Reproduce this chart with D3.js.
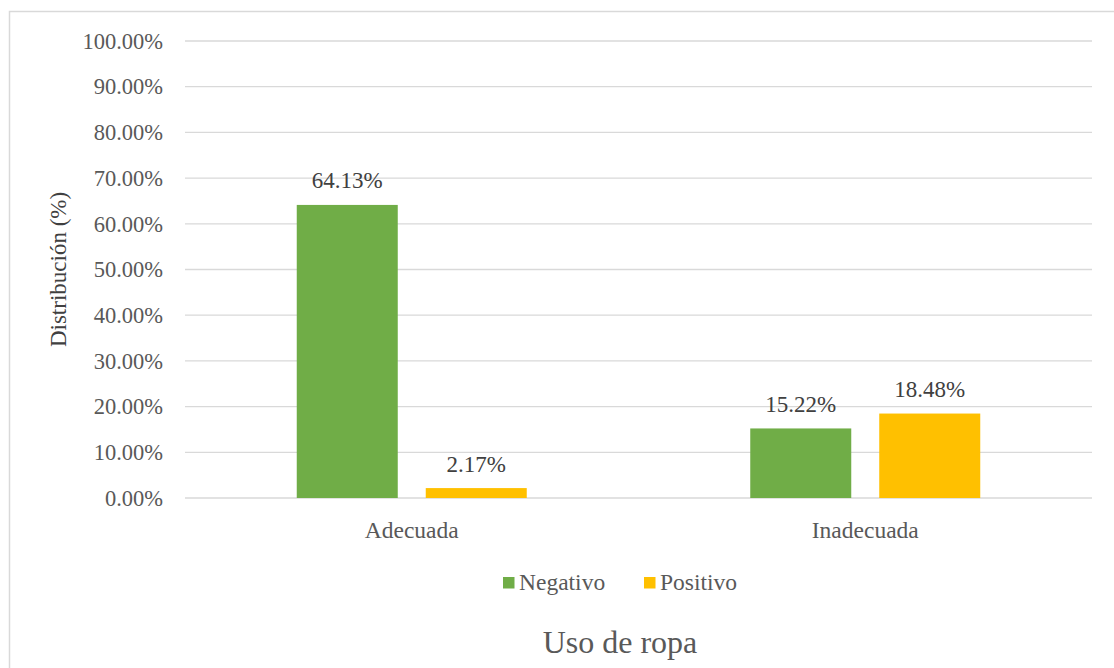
<!DOCTYPE html>
<html>
<head>
    <script src="https://d3js.org/d3.v7.min.js"></script>
    <style>
        body { margin: 0; background: #fff; }
        text { font-family: "Liberation Serif", "Times New Roman", serif; }
    </style>
</head>
<body>
    <svg width="1114" height="668"></svg>
    <script>
        // Data
        const categories = ["Adecuada", "Inadecuada"];
        const seriesNames = ["Negativo", "Positivo"];
        const negativo = [64.13, 15.22];
        const positivo = [2.17, 18.48];
        const yTicks = [0, 10, 20, 30, 40, 50, 60, 70, 80, 90, 100];
        const colors = ["#70AD47", "#FFC000"];

        const svg = d3.select("svg");

        // chart border
        svg.append("rect")
            .attr("x", 9.5).attr("y", 11.5)
            .attr("width", 1110).attr("height", 670)
            .attr("fill", "none")
            .attr("stroke", "#d9d9d9")
            .attr("stroke-width", 1.5);

        const margin = {top: 41, left: 185, right: 1092, bottom: 498};

        const y = d3.scaleLinear().domain([0, 100]).range([margin.bottom, margin.top]);
        const x0 = d3.scaleBand().domain(categories).range([margin.left, margin.right]);
        const x1 = d3.scaleBand().domain(seriesNames).range([0, 230]).paddingInner(0.217);

        // Gridlines
        svg.append("g")
            .selectAll("line")
            .data(yTicks)
            .enter().append("line")
            .attr("x1", margin.left).attr("x2", margin.right)
            .attr("y1", d => y(d)).attr("y2", d => y(d))
            .attr("stroke", "#d9d9d9")
            .attr("stroke-width", 1.3);

        // Y axis labels
        const yAxis = d3.axisLeft(y).tickValues(yTicks).tickSize(0).tickPadding(22)
            .tickFormat(d => d.toFixed(2) + "%");
        const ya = svg.append("g")
            .attr("transform", "translate(" + margin.left + ",0)")
            .call(yAxis);
        ya.select(".domain").remove();
        ya.selectAll("text")
            .attr("fill", "#595959")
            .style("font-size", "22.5px")
            .style("font-family", "Liberation Serif");

        // X axis labels
        const xa = svg.append("g")
            .attr("transform", "translate(0," + margin.bottom + ")")
            .call(d3.axisBottom(x0).tickSize(0).tickPadding(23));
        xa.select(".domain").remove();
        xa.selectAll("text")
            .attr("fill", "#595959")
            .style("font-size", "23.5px")
            .style("font-family", "Liberation Serif");

        // Bars
        const rows = categories.map((c, i) => ({cat: c, vals: [negativo[i], positivo[i]]}));
        const groups = svg.selectAll(".grp")
            .data(rows)
            .enter().append("g")
            .attr("class", "grp")
            .attr("transform", d => "translate(" + (x0(d.cat) + x0.bandwidth() / 2 - 115) + ",0)");

        groups.selectAll("rect")
            .data(d => d.vals.map((v, j) => ({name: seriesNames[j], v: v, c: colors[j]})))
            .enter().append("rect")
            .attr("x", d => x1(d.name))
            .attr("width", x1.bandwidth())
            .attr("y", d => y(d.v))
            .attr("height", d => y(0) - y(d.v))
            .attr("fill", d => d.c);

        groups.selectAll(".lbl")
            .data(d => d.vals.map((v, j) => ({name: seriesNames[j], v: v})))
            .enter().append("text")
            .attr("class", "lbl")
            .attr("x", d => x1(d.name) + x1.bandwidth() / 2)
            .attr("y", d => y(d.v) - 16.5)
            .attr("text-anchor", "middle")
            .attr("fill", "#404040")
            .style("font-size", "23px")
            .text(d => d.v.toFixed(2) + "%");

        // Y title
        svg.append("text")
            .attr("transform", "translate(65.5," + ((margin.top + margin.bottom) / 2) + ") rotate(-90)")
            .attr("text-anchor", "middle")
            .attr("fill", "#404040")
            .style("font-size", "23px")
            .text("Distribución (%)");

        // Legend
        const legendX = [503, 644];
        const legend = svg.selectAll(".legend")
            .data(seriesNames)
            .enter().append("g")
            .attr("class", "legend")
            .attr("transform", (d, i) => "translate(" + legendX[i] + ",577)");
        legend.append("rect")
            .attr("width", 11.5).attr("height", 11.5)
            .attr("fill", (d, i) => colors[i]);
        legend.append("text")
            .attr("x", 16).attr("y", 13)
            .attr("fill", "#595959")
            .style("font-size", "23.5px")
            .text(d => d);

        // X title
        svg.append("text")
            .attr("x", 620).attr("y", 653)
            .attr("text-anchor", "middle")
            .attr("fill", "#595959")
            .style("font-size", "32px")
            .text("Uso de ropa");
    </script>
</body>
</html>
